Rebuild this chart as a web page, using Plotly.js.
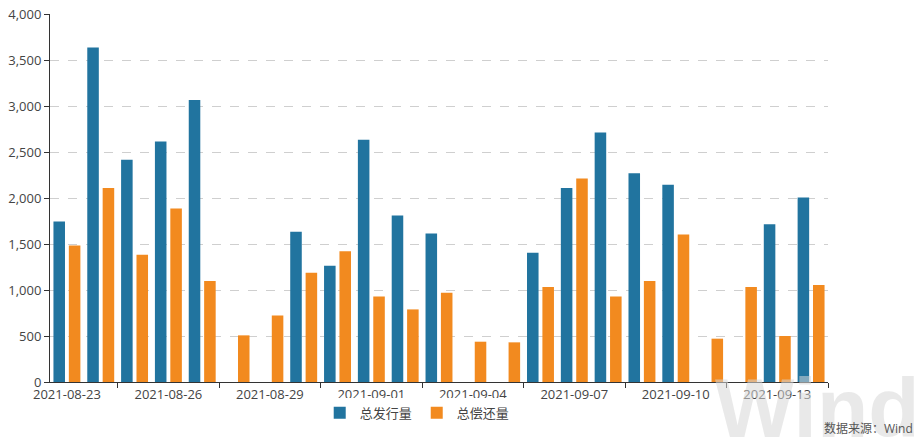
<!DOCTYPE html>
<html>
<head>
<meta charset="utf-8">
<script src="https://cdn.plot.ly/plotly-3.0.1.min.js"></script>
<style>html,body{margin:0;padding:0;background:#fff;}#chart{width:921px;height:439px;}</style>
</head>
<body>
<div id="chart"></div>
<script>
var dates = ["2021-08-23","2021-08-24","2021-08-25","2021-08-26","2021-08-27","2021-08-28","2021-08-29","2021-08-30","2021-08-31","2021-09-01","2021-09-02","2021-09-03","2021-09-04","2021-09-05","2021-09-06","2021-09-07","2021-09-08","2021-09-09","2021-09-10","2021-09-11","2021-09-12","2021-09-13","2021-09-14"];
var issuance = [1745,3635,2415,2615,3065,null,null,1633,1264,2632,1810,1615,null,null,1405,2110,2713,2270,2143,null,null,1716,2005];
var repayment = [1485,2110,1383,1885,1097,507,724,1188,1422,930,789,970,438,431,1032,2212,930,1097,1604,471,1032,500,1053];
var seriesNames = ["总发行量","总偿还量"];
var sourceText = "数据来源：Wind";
var watermark = "Wind";

var FONT = "Open Sans, Noto Sans CJK SC, sans-serif";
var labelVals = dates.filter(function(d,i){return i%3===0;});
var boundaryTicks = [];
for (var i = 1.5; i <= dates.length - 0.5; i += 3) boundaryTicks.push(i);

var traces = [
  {type:"bar", name:seriesNames[0], x:dates, y:issuance, marker:{color:"#21749f"}, hoverinfo:"x+y"},
  {type:"bar", name:seriesNames[1], x:dates, y:repayment, marker:{color:"#f28a1f"}, hoverinfo:"x+y"}
];

var layout = {
  width:921, height:439,
  margin:{l:50, r:93, t:14, b:56},
  paper_bgcolor:"#fff", plot_bgcolor:"#fff",
  font:{family:FONT, size:13, color:"#444"},
  barmode:"group", bargap:0.09, bargroupgap:0.25,
  showlegend:true,
  legend:{orientation:"h", x:0.472, xanchor:"center", y:-0.04, yanchor:"top", font:{size:13, color:"#444"}, itemwidth:30},
  xaxis:{type:"category", tickmode:"array", tickvals:labelVals, ticktext:labelVals, ticks:"", showline:true, linecolor:"#333", linewidth:1, showgrid:false, tickfont:{size:13, color:"#444"}, fixedrange:true},
  xaxis2:{overlaying:"x", anchor:"y", type:"linear", range:[-0.5, dates.length-0.5], tickmode:"array", tickvals:boundaryTicks, ticks:"outside", ticklen:5, tickcolor:"#333", showticklabels:false, showgrid:false, showline:false, zeroline:false},
  yaxis:{range:[0,4000], dtick:500, tickformat:",d", showline:true, linecolor:"#333", linewidth:1, ticks:"outside", ticklen:5, tickcolor:"#333", showgrid:true, gridcolor:"#cfcfcf", griddash:"dash", zeroline:false, tickfont:{size:13, color:"#444"}, fixedrange:true},
  annotations:[
    {xref:"paper", yref:"paper", x:0.986, y:0.062, xanchor:"center", yanchor:"top", text:"<b>"+watermark+"</b>", showarrow:false, font:{family:"Liberation Sans, Arial, sans-serif", size:84, color:"rgba(215,215,215,0.55)"}},
    {xref:"paper", yref:"paper", x:1.112, y:-0.097, xanchor:"right", yanchor:"top", text:sourceText, showarrow:false, font:{family:FONT, size:12, color:"#555"}}
  ]
};

traces.push({type:"scatter", x:[0], y:[0], xaxis:"x2", yaxis:"y", mode:"markers", marker:{opacity:0}, showlegend:false, hoverinfo:"skip"});

Plotly.newPlot("chart", traces, layout, {displayModeBar:false, staticPlot:true});
</script>
</body>
</html>
